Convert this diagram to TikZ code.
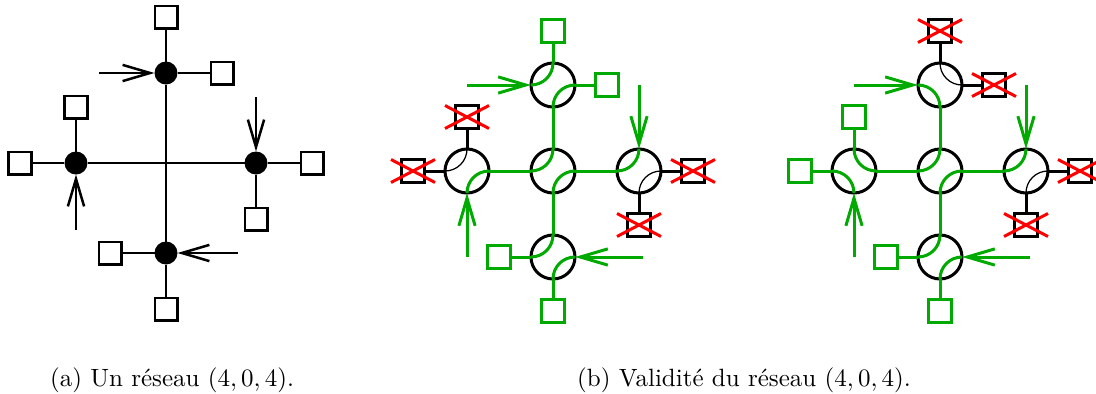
\documentclass[tikz,border=0pt]{standalone}
\usetikzlibrary{arrows.meta}
\definecolor{vert}{RGB}{0,170,0}
\begin{document}
\begin{tikzpicture}[x=0.4pt,y=-0.4pt,
  sq/.style={draw,fill=white,minimum size=9pt,inner sep=0pt,outer sep=0pt,line width=1pt},
  gsq/.style={sq,draw=vert,line width=1.2pt},
  xsq/.style={sq,line width=1.2pt},
  dot/.style={circle,fill=black,minimum size=9.2pt,inner sep=0pt,outer sep=0pt},
  rnd/.style={circle,draw,minimum size=17.6pt,inner sep=0pt,outer sep=0pt,line width=1.2pt},
  ln/.style={line width=1pt},
  gl/.style={draw=vert,line width=1.2pt},
  bl/.style={line width=1.2pt},
  thin arc/.style={line width=0.5pt},
  arr/.style={line width=1pt,-{Straight Barb[length=11pt,width=6.5pt]}},
  garr/.style={draw=vert,line width=1.2pt,-{Straight Barb[length=11pt,width=6.5pt]}},
  xx/.style={draw=red,line width=1.2pt}
]
\useasboundingbox (0,0) rectangle (1096,394);
\def\rr{8.8pt}
% ---------------- panel (a)
\node[dot] (at) at (166,73) {};
\node[dot] (ab) at (166,253) {};
\node[dot] (al) at (76,163) {};
\node[dot] (ar) at (256,163) {};
\draw[ln] (at) -- (ab);
\draw[ln] (al) -- (ar);
\node[sq] (at1) at (166,17) {};
\node[sq] (at2) at (222,73) {};
\node[sq] (al1) at (76,107) {};
\node[sq] (al2) at (20,163) {};
\node[sq] (ar1) at (312,163) {};
\node[sq] (ar2) at (256,219) {};
\node[sq] (ab1) at (110,253) {};
\node[sq] (ab2) at (166,309) {};
\draw[ln] (at) -- (at1); \draw[ln] (at) -- (at2);
\draw[ln] (al) -- (al1); \draw[ln] (al) -- (al2);
\draw[ln] (ar) -- (ar1); \draw[ln] (ar) -- (ar2);
\draw[ln] (ab) -- (ab1); \draw[ln] (ab) -- (ab2);
\coordinate (atA) at (99,73);
\coordinate (alA) at (76,230);
\coordinate (arA) at (256,97);
\coordinate (abA) at (238,253);
\draw[arr] (atA) -- (at);
\draw[arr] (alA) -- (al);
\draw[arr] (arA) -- (ar);
\draw[arr] (abA) -- (ab);
\node[anchor=base] (capa) at (172,386) {(a) Un réseau $(4,0,4)$.};
% ---------------- panel (b)
\node[rnd] (bm) at (553,171) {};
\node[rnd] (bt) at (553,85) {};
\node[rnd] (bb) at (553,257) {};
\node[rnd] (bL) at (467,171) {};
\node[rnd] (bR) at (639,171) {};
% squares
\node[gsq] (bt1) at (553,31) {};
\node[gsq] (bt2) at (607,85) {};
\node[xsq] (bL1) at (467,117) {};
\node[xsq] (bL2) at (413,171) {};
\node[xsq] (bR1) at (693,171) {};
\node[xsq] (bR2) at (639,225) {};
\node[gsq] (bb1) at (499,257) {};
\node[gsq] (bb2) at (553,311) {};
% links
\draw[gl] (bt.north) -- (bt1);
\draw[gl] (bt.east) -- (bt2);
\draw[gl] (bt.south) -- (bm.north);
\draw[gl] (bm.west) -- (bL.east);
\draw[gl] (bm.east) -- (bR.west);
\draw[gl] (bm.south) -- (bb.north);
\draw[gl] (bb.west) -- (bb1);
\draw[gl] (bb.south) -- (bb2);
\draw[bl] (bL.north) -- (bL1);
\draw[bl] (bL.west) -- (bL2);
\draw[bl] (bR.east) -- (bR1);
\draw[bl] (bR.south) -- (bR2);
% arcs
\draw[gl] (bt.north) arc[start angle=0,end angle=-90,radius=\rr];
\draw[gl] (bt.south) arc[start angle=180,end angle=90,radius=\rr];
\draw[gl] (bm.north) arc[start angle=0,end angle=-90,radius=\rr];
\draw[gl] (bm.south) arc[start angle=180,end angle=90,radius=\rr];
\draw[gl] (bb.north) arc[start angle=0,end angle=-90,radius=\rr];
\draw[gl] (bb.south) arc[start angle=180,end angle=90,radius=\rr];
\draw[thin arc] (bL.north) arc[start angle=0,end angle=-90,radius=\rr];
\draw[gl] (bL.south) arc[start angle=180,end angle=90,radius=\rr];
\draw[gl] (bR.north) arc[start angle=0,end angle=-90,radius=\rr];
\draw[thin arc] (bR.south) arc[start angle=180,end angle=90,radius=\rr];
% arrows
\coordinate (btA) at (467,85);
\coordinate (bLA) at (467,257);
\coordinate (bRA) at (639,85);
\coordinate (bbA) at (643,257);
\draw[garr] (btA) -- (bt.west);
\draw[garr] (bLA) -- (bL.south);
\draw[garr] (bRA) -- (bR.north);
\draw[garr] (bbA) -- (bb.east);
% crosses
\foreach \n in {bL1,bL2,bR1,bR2}
  \draw[xx] (\n.center) +(-22,-11.5) -- +(22,11.5) (\n.center) +(-22,11.5) -- +(22,-11.5);
% ---------------- panel (c)
\node[rnd] (cm) at (940,171) {};
\node[rnd] (ct) at (940,85) {};
\node[rnd] (cb) at (940,257) {};
\node[rnd] (cL) at (854,171) {};
\node[rnd] (cR) at (1026,171) {};
\node[xsq] (ct1) at (940,31) {};
\node[xsq] (ct2) at (994,85) {};
\node[gsq] (cL1) at (854,117) {};
\node[gsq] (cL2) at (800,171) {};
\node[xsq] (cR1) at (1080,171) {};
\node[xsq] (cR2) at (1026,225) {};
\node[gsq] (cb1) at (886,257) {};
\node[gsq] (cb2) at (940,311) {};
\draw[bl] (ct.north) -- (ct1);
\draw[bl] (ct.east) -- (ct2);
\draw[gl] (ct.south) -- (cm.north);
\draw[gl] (cm.west) -- (cL.east);
\draw[gl] (cm.east) -- (cR.west);
\draw[gl] (cm.south) -- (cb.north);
\draw[gl] (cL.north) -- (cL1);
\draw[gl] (cL.west) -- (cL2);
\draw[bl] (cR.east) -- (cR1);
\draw[bl] (cR.south) -- (cR2);
\draw[gl] (cb.west) -- (cb1);
\draw[gl] (cb.south) -- (cb2);
% arcs
\draw[gl] (ct.west) arc[start angle=90,end angle=0,radius=\rr];
\draw[thin arc] (ct.north) arc[start angle=180,end angle=270,radius=\rr];
\draw[gl] (cL.north) arc[start angle=180,end angle=270,radius=\rr];
\draw[gl] (cL.west) arc[start angle=90,end angle=0,radius=\rr];
\draw[gl] (cm.north) arc[start angle=0,end angle=-90,radius=\rr];
\draw[gl] (cm.south) arc[start angle=180,end angle=90,radius=\rr];
\draw[gl] (cR.north) arc[start angle=0,end angle=-90,radius=\rr];
\draw[thin arc] (cR.south) arc[start angle=180,end angle=90,radius=\rr];
\draw[gl] (cb.north) arc[start angle=0,end angle=-90,radius=\rr];
\draw[gl] (cb.south) arc[start angle=180,end angle=90,radius=\rr];
% arrows
\coordinate (ctA) at (854,85);
\coordinate (cLA) at (854,257);
\coordinate (cRA) at (1026,85);
\coordinate (cbA) at (1030,257);
\draw[garr] (ctA) -- (ct.west);
\draw[garr] (cLA) -- (cL.south);
\draw[garr] (cRA) -- (cR.north);
\draw[garr] (cbA) -- (cb.east);
\foreach \n in {ct1,ct2,cR1,cR2}
  \draw[xx] (\n.center) +(-22,-11.5) -- +(22,11.5) (\n.center) +(-22,11.5) -- +(22,-11.5);
\node[anchor=base] (capb) at (744,386) {(b) Validité du réseau $(4,0,4)$.};
\end{tikzpicture}
\end{document}
